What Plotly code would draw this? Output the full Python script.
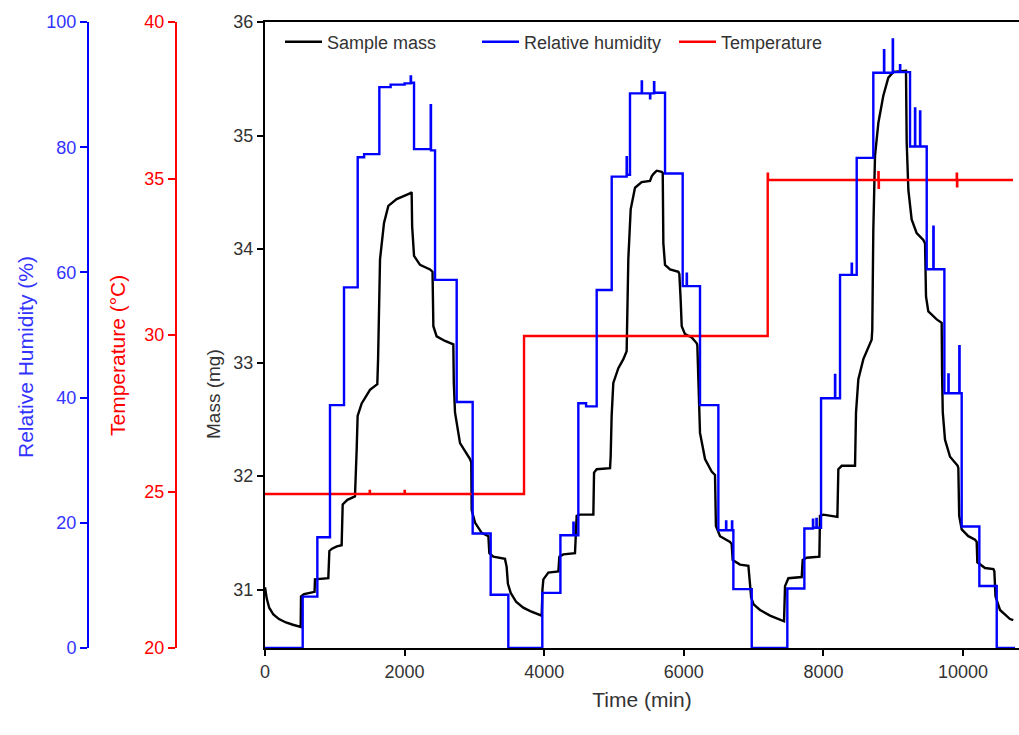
import plotly.graph_objects as go

# ---- Sample mass (mg) vs time (min) ----
mass_time = [0, 25, 60, 120, 200, 300, 400, 511,
             516, 560, 710, 716, 907, 922, 960, 1030, 1098,
             1113, 1180, 1289, 1313, 1327, 1385, 1504, 1609,
             1620, 1648, 1705, 1767, 1886, 2077, 2101,
             2108, 2135, 2221, 2364, 2400, 2408, 2412, 2459, 2579, 2698,
             2705, 2722, 2794, 2937, 2955, 2961, 3009, 3104, 3200,
             3214, 3271, 3438, 3462, 3480, 3520, 3600, 3700, 3800, 3880, 3964,
             3975, 3988, 4059, 4203, 4217, 4274, 4441, 4465, 4513, 4704,
             4714, 4752, 4943, 4952, 4966, 4990, 5062, 5134, 5181,
             5190, 5205, 5239, 5301, 5396, 5516, 5540, 5563, 5611, 5683, 5698,
             5707, 5731, 5803, 5922, 5936, 5955, 5970, 6017, 6113, 6185, 6194,
             6210, 6232, 6304, 6399, 6447, 6460, 6519, 6662,
             6686, 6700, 6805, 6925, 6948, 6965, 7000, 7092, 7235, 7436,
             7450, 7498, 7689, 7703, 7760, 7942, 7951, 7999, 8200,
             8214, 8262, 8453, 8467, 8500, 8572, 8644, 8691, 8700,
             8715, 8739, 8787, 8858, 8930, 9002, 9169, 9183,
             9193, 9217, 9264, 9336, 9431, 9456, 9470, 9503, 9623, 9694,
             9700, 9710, 9742, 9814, 9924, 9933, 9945, 9981, 10076, 10172,
             10196, 10205, 10315, 10435, 10449, 10465, 10530, 10673, 10720]
mass_mg = [31.02, 30.92, 30.84, 30.78, 30.74, 30.71, 30.69, 30.67,
           30.94, 30.96, 30.98, 31.09, 31.10, 31.34, 31.36, 31.38, 31.39,
           31.75, 31.79, 31.82, 32.23, 32.53, 32.64, 32.76, 32.81,
           33.03, 33.91, 34.23, 34.38, 34.44, 34.49, 34.50,
           34.20, 33.94, 33.86, 33.82, 33.80, 33.61, 33.32, 33.23, 33.19, 33.16,
           32.82, 32.56, 32.29, 32.15, 32.12, 31.70, 31.59, 31.50, 31.47,
           31.32, 31.29, 31.27, 31.20, 31.05, 30.97, 30.89, 30.84, 30.81, 30.79, 30.77,
           31.00, 31.09, 31.15, 31.16, 31.29, 31.31, 31.32, 31.65, 31.66, 31.66,
           32.03, 32.06, 32.07, 32.17, 32.53, 32.82, 32.95, 33.03, 33.10,
           33.50, 33.91, 34.35, 34.54, 34.59, 34.60, 34.64, 34.66, 34.69, 34.68, 34.67,
           34.05, 33.86, 33.82, 33.80, 33.78, 33.55, 33.32, 33.25, 33.22, 33.17, 33.15,
           32.82, 32.38, 32.15, 32.04, 32.01, 31.56, 31.47, 31.42,
           31.40, 31.26, 31.22, 31.21, 31.05, 30.93, 30.87, 30.82, 30.77, 30.72,
           31.03, 31.10, 31.11, 31.26, 31.28, 31.29, 31.65, 31.66, 31.64,
           32.06, 32.09, 32.09, 32.56, 32.85, 33.03, 33.13, 33.20, 33.29,
           34.17, 34.82, 35.11, 35.35, 35.51, 35.56, 35.57, 35.57,
           34.94, 34.52, 34.26, 34.14, 34.08, 34.05, 33.58, 33.45, 33.38, 33.35,
           32.90, 32.56, 32.32, 32.17, 32.09, 32.07, 31.65, 31.53, 31.47, 31.44,
           31.42, 31.24, 31.19, 31.18, 31.16, 30.94, 30.82, 30.74, 30.73]

# ---- Relative humidity (%) set-point steps, with short excursions ----
rh_time = [0, 540, 750, 931, 1132, 1328, 1420, 1638, 1800, 2000, 2087, 2092,
           2135, 2374, 2378, 2436, 2746, 2975, 3233, 3486,
           3973, 4232, 4418, 4422, 4489, 4600, 4752, 4967, 5181, 5185, 5229,
           5397, 5401, 5516, 5520, 5573, 5577, 5731, 5984, 6041, 6045,
           6232, 6495, 6605, 6609, 6690, 6694, 6710, 6973,
           7483, 7727, 7850, 7854, 7900, 7904, 7966, 8166, 8170, 8238, 8405, 8409,
           8477, 8715, 8868, 8872, 8993, 8997, 9097, 9101, 9241, 9312, 9316,
           9384, 9388, 9480, 9575, 9579, 9733, 9790, 9794, 9947, 9951,
           9981, 10234, 10483, 10745]
rh_pct = [0.0, 8.2, 17.7, 38.8, 57.6, 78.4, 78.9, 89.6, 90.0, 90.2, 91.3, 90.3,
          79.7, 86.7, 79.5, 58.8, 39.3, 18.3, 8.5, 0.0,
          8.8, 18.0, 20.0, 18.0, 39.1, 38.6, 57.2, 75.3, 78.4, 75.6, 88.6,
          90.5, 88.6, 87.8, 88.6, 90.4, 88.7, 75.8, 57.8, 59.8, 57.8,
          38.8, 18.8, 20.2, 18.8, 20.2, 18.8, 9.4, 0.0,
          9.5, 19.1, 20.5, 19.2, 20.6, 19.2, 39.9, 43.6, 39.9, 59.6, 61.4, 59.6,
          78.3, 91.9, 95.5, 91.9, 97.2, 92.0, 93.1, 92.0, 80.1, 86.2, 80.1,
          85.7, 80.1, 60.5, 67.3, 60.5, 40.7, 43.7, 40.7, 48.2, 40.7,
          19.4, 9.9, 0.0, 0.0]

# ---- Temperature (°C) ----
temp_time = [0, 1500, 1504, 2000, 2004, 3711, 7202, 7206, 8787, 8791, 8795,
             9910, 9914, 9918, 10716]
temp_c = [24.92, 25.02, 24.92, 25.02, 24.92, 29.97, 35.15, 34.95, 35.2, 34.7, 34.95,
          35.15, 34.75, 34.95, 34.95]

time_ticks = [0, 2000, 4000, 6000, 8000, 10000]
mass_ticks = [31, 32, 33, 34, 35, 36]
temp_ticks = [20, 25, 30, 35, 40]
rh_ticks = [0, 20, 40, 60, 80, 100]

FONT = "Liberation Sans, Arial, sans-serif"
BLUE = "#0000FF"
BLUE_TXT = "#3333FF"
RED = "#FF0000"
TXT = "#333333"

fig = go.Figure()
fig.add_trace(go.Scatter(x=mass_time, y=mass_mg, mode="lines", name="Sample mass",
                         line=dict(color="black", width=2.4), yaxis="y"))
fig.add_trace(go.Scatter(x=rh_time, y=rh_pct, mode="lines", name="Relative humidity",
                         line=dict(color=BLUE, width=2.4, shape="hv"), yaxis="y3"))
fig.add_trace(go.Scatter(x=temp_time, y=temp_c, mode="lines", name="Temperature",
                         line=dict(color=RED, width=2.4, shape="hv"), yaxis="y2"))

W, H = 1019, 735
ydom = [1 - 648 / H, 1 - 22 / H]

# rotated axis titles, placed beside each vertical axis
titles = [
    dict(text="Relative Humidity (%)", x=25 / W, y=1 - 357 / H, color=BLUE_TXT, size=21),
    dict(text="Temperature (°C)", x=118 / W, y=1 - 356 / H, color=RED, size=21),
    dict(text="Mass (mg)", x=214 / W, y=1 - 394 / H, color=TXT, size=19),
]
annotations = [dict(text=t["text"], x=t["x"], y=t["y"], xref="paper", yref="paper",
                    xanchor="center", yanchor="middle", textangle=-90, showarrow=False,
                    font=dict(family=FONT, size=t["size"], color=t["color"]))
               for t in titles]

fig.update_layout(
    width=W, height=H, autosize=False,
    margin=dict(l=0, r=0, t=0, b=0),
    template="none",
    paper_bgcolor="white", plot_bgcolor="white",
    font=dict(family=FONT, size=18, color=TXT),
    annotations=annotations,
    xaxis=dict(domain=[265 / W, 1.0], range=[0, 10802],
               tickvals=time_ticks, ticktext=[str(v) for v in time_ticks],
               ticks="outside", ticklen=6, tickwidth=2, tickcolor="black",
               showline=True, linecolor="black", linewidth=2, mirror=True,
               showgrid=False, zeroline=False,
               tickfont=dict(size=18, color=TXT),
               title=dict(text="Time (min)", font=dict(size=21, color=TXT), standoff=12)),
    yaxis=dict(domain=ydom, range=[30.485, 36], tickvals=mass_ticks,
               ticks="outside", ticklen=6, tickwidth=2, tickcolor="black",
               showline=True, linecolor="black", linewidth=2,
               showgrid=False, zeroline=False,
               tickfont=dict(size=18, color=TXT)),
    yaxis2=dict(domain=ydom, range=[20, 40], tickvals=temp_ticks,
                overlaying="y", anchor="free", position=176 / W, side="left",
                ticks="outside", ticklen=7, tickwidth=2, tickcolor=RED,
                showline=True, linecolor=RED, linewidth=2,
                showgrid=False, zeroline=False,
                tickfont=dict(size=18, color=RED)),
    yaxis3=dict(domain=ydom, range=[0, 100], tickvals=rh_ticks,
                overlaying="y", anchor="free", position=88 / W, side="left",
                ticks="outside", ticklen=7, tickwidth=2, tickcolor=BLUE,
                showline=True, linecolor=BLUE, linewidth=2,
                showgrid=False, zeroline=False,
                tickfont=dict(size=18, color=BLUE_TXT)),
    legend=dict(orientation="h", x=280 / W, y=1 - 42 / H, xanchor="left", yanchor="middle",
                bgcolor="rgba(0,0,0,0)", borderwidth=0,
                font=dict(size=18, color=TXT), itemwidth=37,
                entrywidth=145, entrywidthmode="pixels", tracegroupgap=0),
    showlegend=True,
)

fig.write_html("out.html")
